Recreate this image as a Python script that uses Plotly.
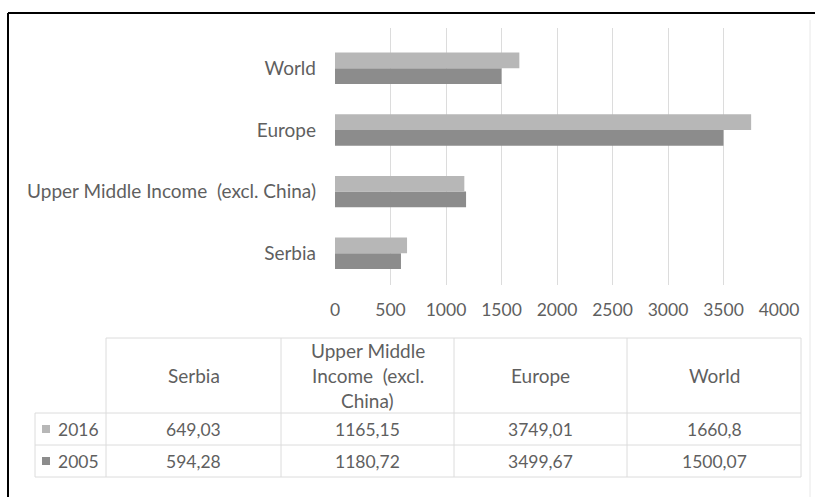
import plotly.graph_objects as go

# ---------------- data ----------------
categories = ["Serbia", "Upper Middle Income  (excl. China)", "Europe", "World"]
header_lines = [["Serbia"], ["Upper Middle", "Income \u00a0(excl.", "China)"], ["Europe"], ["World"]]
series_names = ["2016", "2005"]
values_2016 = [649.03, 1165.15, 3749.01, 1660.8]
values_2005 = [594.28, 1180.72, 3499.67, 1500.07]
x_ticks = [0, 500, 1000, 1500, 2000, 2500, 3000, 3500, 4000]

# ---------------- style ----------------
W, H = 815, 497
L, R, T, B = 335, 779, 28, 285
FONT = "Lato, 'Open Sans', sans-serif"
TXT = "#5f5f5f"
C2016 = "#b7b7b7"
C2005 = "#8c8c8c"
GRID = "#dcdcdc"
FS_TXT = 19
FS_NUM = 17.5

def px(x):
    return (x - L) / (R - L)

def py(y):
    return (B - y) / (B - T)

y_labels = [c.replace("  ", " \u00a0") for c in categories]

fig = go.Figure()
fig.add_trace(go.Bar(y=y_labels, x=values_2005, orientation="h", name=series_names[1],
                     marker=dict(color=C2005, line=dict(width=0))))
fig.add_trace(go.Bar(y=y_labels, x=values_2016, orientation="h", name=series_names[0],
                     marker=dict(color=C2016, line=dict(width=0))))

fig.update_layout(
    width=W, height=H,
    margin=dict(l=L, r=W - R, t=T, b=H - B, pad=0),
    paper_bgcolor="white", plot_bgcolor="white",
    barmode="group", bargap=0.49, bargroupgap=0,
    showlegend=False,
    font=dict(family=FONT, size=FS_TXT, color=TXT),
)
fig.update_xaxes(range=[0, 4000], tickvals=x_ticks, ticktext=[str(v) for v in x_ticks],
                 showgrid=True, gridcolor=GRID, gridwidth=1, zeroline=False,
                 showline=False, ticks="", ticklabelstandoff=12,
                 tickfont=dict(family=FONT, size=FS_NUM, color=TXT))
fig.update_yaxes(type="category", range=[-0.514, 3.653], showgrid=False, zeroline=False,
                 showline=False, ticks="", ticklabelstandoff=18,
                 tickfont=dict(family=FONT, size=FS_TXT, color=TXT))

shapes = []
annotations = []

def line(x0, y0, x1, y1, color=GRID, width=1):
    shapes.append(dict(type="line", xref="paper", yref="paper",
                       x0=px(x0), y0=py(y0), x1=px(x1), y1=py(y1),
                       line=dict(color=color, width=width)))

def text(x, y, s, size, xanchor="center"):
    annotations.append(dict(xref="paper", yref="paper", x=px(x), y=py(y), text=s,
                            showarrow=False, xanchor=xanchor, yanchor="middle",
                            font=dict(family=FONT, size=size, color=TXT)))

# frame
line(8, 13, 815, 13, color="black", width=2)
line(8, 13, 8, 497, color="black", width=2)
line(810, 20, 810, 497, color="#e8e8e8", width=1)

# data table
col_x = [106, 281, 454, 627, 801]
tab_left = 35
tab_top, hdr_bot, row1_bot, row2_bot = 338, 413, 445, 477
line(col_x[0], tab_top, col_x[-1], tab_top)
for yy in (hdr_bot, row1_bot, row2_bot):
    line(tab_left, yy, col_x[-1], yy)
for xx in col_x:
    line(xx, tab_top, xx, row2_bot)
line(tab_left, hdr_bot, tab_left, row2_bot)

hdr_mid = (tab_top + hdr_bot) / 2
for i, lines in enumerate(header_lines):
    cx = (col_x[i] + col_x[i + 1]) / 2
    n = len(lines)
    for k, s in enumerate(lines):
        text(cx, hdr_mid + (k - (n - 1) / 2) * 25, s, FS_TXT)

rows = [(series_names[0], values_2016, C2016, (hdr_bot + row1_bot) / 2),
        (series_names[1], values_2005, C2005, (row1_bot + row2_bot) / 2)]
for name, vals, col, cy in rows:
    shapes.append(dict(type="rect", xref="paper", yref="paper",
                       x0=px(42), x1=px(50), y0=py(cy + 4), y1=py(cy - 4),
                       fillcolor=col, line=dict(width=0)))
    text(56, cy, name, FS_NUM, xanchor="left")
    for i, v in enumerate(vals):
        cx = (col_x[i] + col_x[i + 1]) / 2
        text(cx, cy, f"{v:g}".replace(".", ","), FS_NUM)

fig.update_layout(shapes=shapes, annotations=annotations)
fig.write_html("out.html", config={"displayModeBar": False},
               post_script="document.body.style.margin='0';window.dispatchEvent(new Event('resize'));")
